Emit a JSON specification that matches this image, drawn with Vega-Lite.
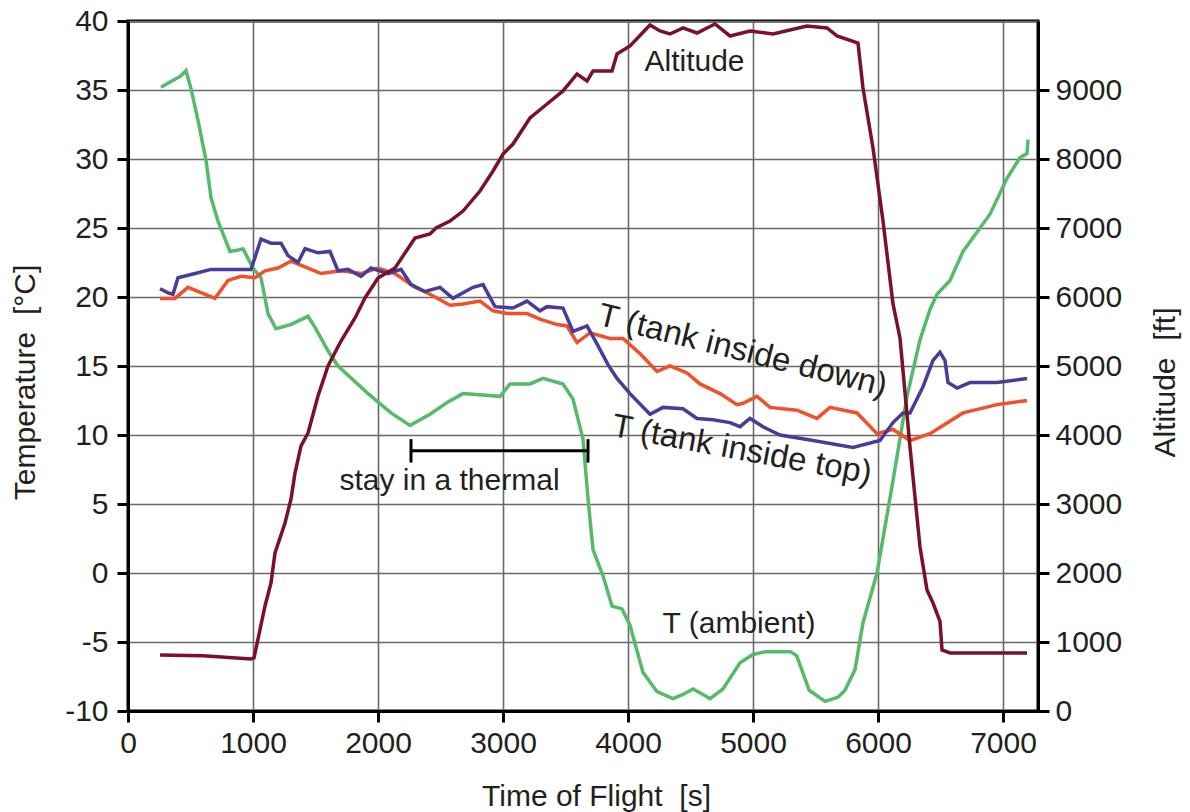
{
  "$schema": "https://vega.github.io/schema/vega-lite/v6.json",
  "width": 910,
  "height": 690,
  "autosize": "none",
  "padding": {"left": 128, "top": 21, "right": 152, "bottom": 101},
  "background": "white",
  "config": {
    "font": "Liberation Sans",
    "view": {"stroke": "black", "strokeWidth": 3},
    "axis": {
      "domainColor": "black",
      "domainWidth": 3,
      "tickColor": "black",
      "tickWidth": 3,
      "tickSize": 11,
      "gridColor": "#6a6a6a",
      "gridWidth": 1.6,
      "gridOpacity": 1,
      "labelFont": "Liberation Sans",
      "labelFontSize": 30,
      "labelColor": "#231f20",
      "titleFont": "Liberation Sans",
      "titleFontSize": 30,
      "titleFontWeight": "normal",
      "titleColor": "#231f20"
    }
  },
  "datasets": {
    "temp": [
      {"t": 264, "T": 35.2, "s": "ambient"}, {"t": 340, "T": 35.6, "s": "ambient"}, {"t": 420, "T": 36.0, "s": "ambient"}, {"t": 464, "T": 36.4, "s": "ambient"}, {"t": 504, "T": 35.1, "s": "ambient"}, {"t": 560, "T": 32.8, "s": "ambient"}, {"t": 624, "T": 29.9, "s": "ambient"}, {"t": 664, "T": 27.2, "s": "ambient"}, {"t": 720, "T": 25.5, "s": "ambient"}, {"t": 816, "T": 23.3, "s": "ambient"}, {"t": 880, "T": 23.4, "s": "ambient"}, {"t": 920, "T": 23.5, "s": "ambient"}, {"t": 1000, "T": 22.1, "s": "ambient"}, {"t": 1064, "T": 21.4, "s": "ambient"}, {"t": 1120, "T": 18.8, "s": "ambient"}, {"t": 1184, "T": 17.7, "s": "ambient"}, {"t": 1300, "T": 18.0, "s": "ambient"}, {"t": 1440, "T": 18.6, "s": "ambient"}, {"t": 1496, "T": 17.8, "s": "ambient"}, {"t": 1600, "T": 16.1, "s": "ambient"}, {"t": 1680, "T": 15.0, "s": "ambient"}, {"t": 1800, "T": 14.0, "s": "ambient"}, {"t": 1920, "T": 13.0, "s": "ambient"}, {"t": 2104, "T": 11.6, "s": "ambient"}, {"t": 2256, "T": 10.7, "s": "ambient"}, {"t": 2416, "T": 11.5, "s": "ambient"}, {"t": 2560, "T": 12.4, "s": "ambient"}, {"t": 2680, "T": 13.0, "s": "ambient"}, {"t": 2976, "T": 12.8, "s": "ambient"}, {"t": 3056, "T": 13.7, "s": "ambient"}, {"t": 3216, "T": 13.7, "s": "ambient"}, {"t": 3320, "T": 14.1, "s": "ambient"}, {"t": 3480, "T": 13.7, "s": "ambient"}, {"t": 3560, "T": 12.6, "s": "ambient"}, {"t": 3640, "T": 9.7, "s": "ambient"}, {"t": 3680, "T": 5.4, "s": "ambient"}, {"t": 3720, "T": 1.7, "s": "ambient"}, {"t": 3800, "T": -0.2, "s": "ambient"}, {"t": 3872, "T": -2.4, "s": "ambient"}, {"t": 3952, "T": -2.6, "s": "ambient"}, {"t": 4016, "T": -3.8, "s": "ambient"}, {"t": 4120, "T": -7.2, "s": "ambient"}, {"t": 4232, "T": -8.6, "s": "ambient"}, {"t": 4360, "T": -9.1, "s": "ambient"}, {"t": 4440, "T": -8.8, "s": "ambient"}, {"t": 4520, "T": -8.4, "s": "ambient"}, {"t": 4600, "T": -8.8, "s": "ambient"}, {"t": 4656, "T": -9.1, "s": "ambient"}, {"t": 4760, "T": -8.4, "s": "ambient"}, {"t": 4896, "T": -6.5, "s": "ambient"}, {"t": 5000, "T": -5.9, "s": "ambient"}, {"t": 5100, "T": -5.7, "s": "ambient"}, {"t": 5300, "T": -5.7, "s": "ambient"}, {"t": 5350, "T": -6.0, "s": "ambient"}, {"t": 5450, "T": -8.5, "s": "ambient"}, {"t": 5576, "T": -9.3, "s": "ambient"}, {"t": 5680, "T": -9.0, "s": "ambient"}, {"t": 5736, "T": -8.5, "s": "ambient"}, {"t": 5816, "T": -7.0, "s": "ambient"}, {"t": 5880, "T": -3.6, "s": "ambient"}, {"t": 5992, "T": 0.0, "s": "ambient"}, {"t": 6120, "T": 6.7, "s": "ambient"}, {"t": 6232, "T": 12.8, "s": "ambient"}, {"t": 6336, "T": 16.9, "s": "ambient"}, {"t": 6416, "T": 19.1, "s": "ambient"}, {"t": 6472, "T": 20.2, "s": "ambient"}, {"t": 6576, "T": 21.2, "s": "ambient"}, {"t": 6680, "T": 23.3, "s": "ambient"}, {"t": 6896, "T": 26.0, "s": "ambient"}, {"t": 7032, "T": 28.6, "s": "ambient"}, {"t": 7136, "T": 30.1, "s": "ambient"}, {"t": 7192, "T": 30.4, "s": "ambient"}, {"t": 7200, "T": 31.4, "s": "ambient"},

      {"t": 256, "T": 19.9, "s": "down"}, {"t": 376, "T": 19.9, "s": "down"}, {"t": 480, "T": 20.7, "s": "down"}, {"t": 696, "T": 19.9, "s": "down"}, {"t": 800, "T": 21.2, "s": "down"}, {"t": 904, "T": 21.5, "s": "down"}, {"t": 1016, "T": 21.4, "s": "down"}, {"t": 1096, "T": 21.9, "s": "down"}, {"t": 1200, "T": 22.1, "s": "down"}, {"t": 1304, "T": 22.6, "s": "down"}, {"t": 1440, "T": 22.1, "s": "down"}, {"t": 1544, "T": 21.7, "s": "down"}, {"t": 1704, "T": 21.9, "s": "down"}, {"t": 1864, "T": 21.7, "s": "down"}, {"t": 2000, "T": 22.1, "s": "down"}, {"t": 2136, "T": 21.7, "s": "down"}, {"t": 2296, "T": 20.7, "s": "down"}, {"t": 2416, "T": 20.2, "s": "down"}, {"t": 2576, "T": 19.4, "s": "down"}, {"t": 2680, "T": 19.5, "s": "down"}, {"t": 2816, "T": 19.7, "s": "down"}, {"t": 2920, "T": 19.0, "s": "down"}, {"t": 3032, "T": 18.8, "s": "down"}, {"t": 3192, "T": 18.8, "s": "down"}, {"t": 3296, "T": 18.4, "s": "down"}, {"t": 3432, "T": 18.0, "s": "down"}, {"t": 3512, "T": 17.9, "s": "down"}, {"t": 3592, "T": 16.7, "s": "down"}, {"t": 3696, "T": 17.4, "s": "down"}, {"t": 3856, "T": 17.0, "s": "down"}, {"t": 3960, "T": 17.0, "s": "down"}, {"t": 4096, "T": 15.9, "s": "down"}, {"t": 4232, "T": 14.6, "s": "down"}, {"t": 4336, "T": 15.0, "s": "down"}, {"t": 4472, "T": 14.5, "s": "down"}, {"t": 4576, "T": 13.7, "s": "down"}, {"t": 4736, "T": 13.0, "s": "down"}, {"t": 4872, "T": 12.2, "s": "down"}, {"t": 4920, "T": 12.3, "s": "down"}, {"t": 5032, "T": 12.8, "s": "down"}, {"t": 5136, "T": 12.0, "s": "down"}, {"t": 5352, "T": 11.8, "s": "down"}, {"t": 5512, "T": 11.2, "s": "down"}, {"t": 5616, "T": 12.0, "s": "down"}, {"t": 5832, "T": 11.6, "s": "down"}, {"t": 5992, "T": 10.1, "s": "down"}, {"t": 6120, "T": 10.4, "s": "down"}, {"t": 6256, "T": 9.6, "s": "down"}, {"t": 6416, "T": 10.1, "s": "down"}, {"t": 6680, "T": 11.6, "s": "down"}, {"t": 6952, "T": 12.2, "s": "down"}, {"t": 7192, "T": 12.5, "s": "down"},

      {"t": 256, "T": 20.6, "s": "top"}, {"t": 320, "T": 20.3, "s": "top"}, {"t": 360, "T": 20.2, "s": "top"}, {"t": 400, "T": 21.4, "s": "top"}, {"t": 536, "T": 21.7, "s": "top"}, {"t": 664, "T": 22.0, "s": "top"}, {"t": 744, "T": 22.0, "s": "top"}, {"t": 984, "T": 22.0, "s": "top"}, {"t": 1064, "T": 24.2, "s": "top"}, {"t": 1144, "T": 23.9, "s": "top"}, {"t": 1224, "T": 23.9, "s": "top"}, {"t": 1280, "T": 23.0, "s": "top"}, {"t": 1360, "T": 22.5, "s": "top"}, {"t": 1416, "T": 23.5, "s": "top"}, {"t": 1520, "T": 23.2, "s": "top"}, {"t": 1616, "T": 23.3, "s": "top"}, {"t": 1680, "T": 21.9, "s": "top"}, {"t": 1760, "T": 22.0, "s": "top"}, {"t": 1864, "T": 21.5, "s": "top"}, {"t": 1944, "T": 22.1, "s": "top"}, {"t": 2080, "T": 21.7, "s": "top"}, {"t": 2184, "T": 22.0, "s": "top"}, {"t": 2264, "T": 20.9, "s": "top"}, {"t": 2376, "T": 20.4, "s": "top"}, {"t": 2496, "T": 20.7, "s": "top"}, {"t": 2600, "T": 19.9, "s": "top"}, {"t": 2760, "T": 20.7, "s": "top"}, {"t": 2840, "T": 20.9, "s": "top"}, {"t": 2936, "T": 19.3, "s": "top"}, {"t": 3080, "T": 19.2, "s": "top"}, {"t": 3192, "T": 19.7, "s": "top"}, {"t": 3296, "T": 19.0, "s": "top"}, {"t": 3352, "T": 19.3, "s": "top"}, {"t": 3480, "T": 19.2, "s": "top"}, {"t": 3560, "T": 17.5, "s": "top"}, {"t": 3672, "T": 17.9, "s": "top"}, {"t": 3752, "T": 16.6, "s": "top"}, {"t": 3840, "T": 15.1, "s": "top"}, {"t": 3912, "T": 14.1, "s": "top"}, {"t": 4016, "T": 13.0, "s": "top"}, {"t": 4176, "T": 11.5, "s": "top"}, {"t": 4280, "T": 12.0, "s": "top"}, {"t": 4440, "T": 11.9, "s": "top"}, {"t": 4552, "T": 11.2, "s": "top"}, {"t": 4680, "T": 11.1, "s": "top"}, {"t": 4816, "T": 10.9, "s": "top"}, {"t": 4896, "T": 10.6, "s": "top"}, {"t": 4976, "T": 11.2, "s": "top"}, {"t": 5080, "T": 10.6, "s": "top"}, {"t": 5216, "T": 10.0, "s": "top"}, {"t": 5480, "T": 9.6, "s": "top"}, {"t": 5800, "T": 9.1, "s": "top"}, {"t": 6016, "T": 9.6, "s": "top"}, {"t": 6120, "T": 10.9, "s": "top"}, {"t": 6200, "T": 11.6, "s": "top"}, {"t": 6256, "T": 11.6, "s": "top"}, {"t": 6360, "T": 13.5, "s": "top"}, {"t": 6440, "T": 15.4, "s": "top"}, {"t": 6496, "T": 16.0, "s": "top"}, {"t": 6536, "T": 15.4, "s": "top"}, {"t": 6560, "T": 13.8, "s": "top"}, {"t": 6632, "T": 13.4, "s": "top"}, {"t": 6736, "T": 13.8, "s": "top"}, {"t": 6952, "T": 13.8, "s": "top"}, {"t": 7192, "T": 14.1, "s": "top"}
    ],
    "alt": [
      {"t": 256, "A": 812}, {"t": 600, "A": 800}, {"t": 984, "A": 754}, {"t": 1008, "A": 770}, {"t": 1096, "A": 1522}, {"t": 1144, "A": 1855}, {"t": 1176, "A": 2290}, {"t": 1256, "A": 2725}, {"t": 1304, "A": 3072}, {"t": 1336, "A": 3449}, {"t": 1384, "A": 3841}, {"t": 1440, "A": 4029}, {"t": 1520, "A": 4565}, {"t": 1600, "A": 5000}, {"t": 1704, "A": 5362}, {"t": 1816, "A": 5696}, {"t": 1896, "A": 5986}, {"t": 2000, "A": 6275}, {"t": 2136, "A": 6420}, {"t": 2184, "A": 6551}, {"t": 2296, "A": 6855}, {"t": 2416, "A": 6913}, {"t": 2464, "A": 7000}, {"t": 2576, "A": 7101}, {"t": 2680, "A": 7246}, {"t": 2816, "A": 7536}, {"t": 2920, "A": 7826}, {"t": 3000, "A": 8072}, {"t": 3080, "A": 8217}, {"t": 3216, "A": 8594}, {"t": 3352, "A": 8797}, {"t": 3480, "A": 8986}, {"t": 3592, "A": 9232}, {"t": 3672, "A": 9130}, {"t": 3720, "A": 9275}, {"t": 3872, "A": 9275}, {"t": 3912, "A": 9522}, {"t": 4016, "A": 9638}, {"t": 4176, "A": 9942}, {"t": 4256, "A": 9855}, {"t": 4336, "A": 9812}, {"t": 4440, "A": 9899}, {"t": 4552, "A": 9826}, {"t": 4696, "A": 9957}, {"t": 4816, "A": 9783}, {"t": 4976, "A": 9855}, {"t": 5160, "A": 9812}, {"t": 5432, "A": 9928}, {"t": 5592, "A": 9899}, {"t": 5672, "A": 9783}, {"t": 5840, "A": 9681}, {"t": 5880, "A": 9029}, {"t": 5960, "A": 8159}, {"t": 6040, "A": 7101}, {"t": 6120, "A": 5899}, {"t": 6176, "A": 5406}, {"t": 6256, "A": 3826}, {"t": 6336, "A": 2377}, {"t": 6392, "A": 1754}, {"t": 6440, "A": 1565}, {"t": 6496, "A": 1300}, {"t": 6512, "A": 884}, {"t": 6576, "A": 841}, {"t": 7192, "A": 841}
    ]
  },
  "layer": [
    {
      "layer": [
        {
          "data": {"name": "temp"},
          "mark": {"type": "line", "strokeWidth": 3.5, "interpolate": "linear"},
          "encoding": {
            "x": {"field": "t", "type": "quantitative", "scale": {"domain": [0, 7280], "nice": false, "zero": false},
              "axis": {"values": [0, 1000, 2000, 3000, 4000, 5000, 6000, 7000], "labelExpr": "'' + datum.value", "title": "Time of Flight\u00a0 [s]", "labelPadding": 6, "titlePadding": 23, "titleX": 468, "labelFlush": false}},
            "y": {"field": "T", "type": "quantitative", "scale": {"domain": [-10, 40], "nice": false, "zero": false},
              "axis": {"values": [-10, -5, 0, 5, 10, 15, 20, 25, 30, 35, 40], "labelExpr": "'' + datum.value", "title": "Temperature\u00a0 [°C]", "labelPadding": 9, "titlePadding": 24, "titleY": 361, "labelFlush": false}},
            "color": {"field": "s", "type": "nominal", "legend": null,
              "scale": {"domain": ["ambient", "down", "top"], "range": ["#55bb68", "#f1512a", "#4b3b98"]}},
            "order": {"field": "t"}
          }
        },
        {
          "data": {"values": [{"t": 2264, "t2": 3680, "T": 8.85}]},
          "mark": {"type": "rule", "color": "black", "strokeWidth": 3},
          "encoding": {
            "x": {"field": "t", "type": "quantitative"},
            "x2": {"field": "t2"},
            "y": {"field": "T", "type": "quantitative"}
          }
        },
        {
          "data": {"values": [{"t": 2264, "T": 9.7, "T2": 8.0}, {"t": 3680, "T": 9.7, "T2": 8.0}]},
          "mark": {"type": "rule", "color": "black", "strokeWidth": 3},
          "encoding": {
            "x": {"field": "t", "type": "quantitative"},
            "y": {"field": "T", "type": "quantitative"},
            "y2": {"field": "T2"}
          }
        },
        {
          "data": {"values": [
            {"t": 4532, "T": 36.4, "label": "Altitude"},
            {"t": 4888, "T": -4.35, "label": "T (ambient)"},
            {"t": 2572, "T": 6.0, "label": "stay in a thermal"}
          ]},
          "mark": {"type": "text", "font": "Liberation Sans", "fontSize": 30, "color": "#231f20", "align": "center", "baseline": "alphabetic"},
          "encoding": {
            "x": {"field": "t", "type": "quantitative"},
            "y": {"field": "T", "type": "quantitative"},
            "text": {"field": "label"}
          }
        },
        {
          "data": {"values": [{"t": 4896, "T": 15.4, "label": "T (tank inside down)"}]},
          "mark": {"type": "text", "font": "Liberation Sans", "fontSize": 33, "color": "#231f20", "align": "center", "baseline": "alphabetic", "angle": 14},
          "encoding": {
            "x": {"field": "t", "type": "quantitative"},
            "y": {"field": "T", "type": "quantitative"},
            "text": {"field": "label"}
          }
        },
        {
          "data": {"values": [{"t": 4896, "T": 8.2, "label": "T (tank inside top)"}]},
          "mark": {"type": "text", "font": "Liberation Sans", "fontSize": 33, "color": "#231f20", "align": "center", "baseline": "alphabetic", "angle": 10.5},
          "encoding": {
            "x": {"field": "t", "type": "quantitative"},
            "y": {"field": "T", "type": "quantitative"},
            "text": {"field": "label"}
          }
        }
      ]
    },
    {
      "data": {"name": "alt"},
      "mark": {"type": "line", "color": "#7b1128", "strokeWidth": 3.5},
      "encoding": {
        "x": {"field": "t", "type": "quantitative", "scale": {"domain": [0, 7280], "nice": false, "zero": false},
          "axis": {"values": [0, 1000, 2000, 3000, 4000, 5000, 6000, 7000], "labelExpr": "'' + datum.value", "title": "Time of Flight\u00a0 [s]", "labelPadding": 6, "titlePadding": 23, "titleX": 468, "labelFlush": false}},
        "y": {"field": "A", "type": "quantitative", "scale": {"domain": [0, 10000], "nice": false, "zero": false},
          "axis": {"orient": "right", "values": [0, 1000, 2000, 3000, 4000, 5000, 6000, 7000, 8000, 9000], "labelExpr": "'' + datum.value", "grid": false, "title": "Altitude\u00a0 [ft]", "titleAngle": -90, "titleBaseline": "top", "labelPadding": 6, "titlePadding": 29, "titleY": 361, "labelFlush": false}},
        "order": {"field": "t"}
      }
    }
  ],
  "resolve": {"scale": {"y": "independent"}}
}
